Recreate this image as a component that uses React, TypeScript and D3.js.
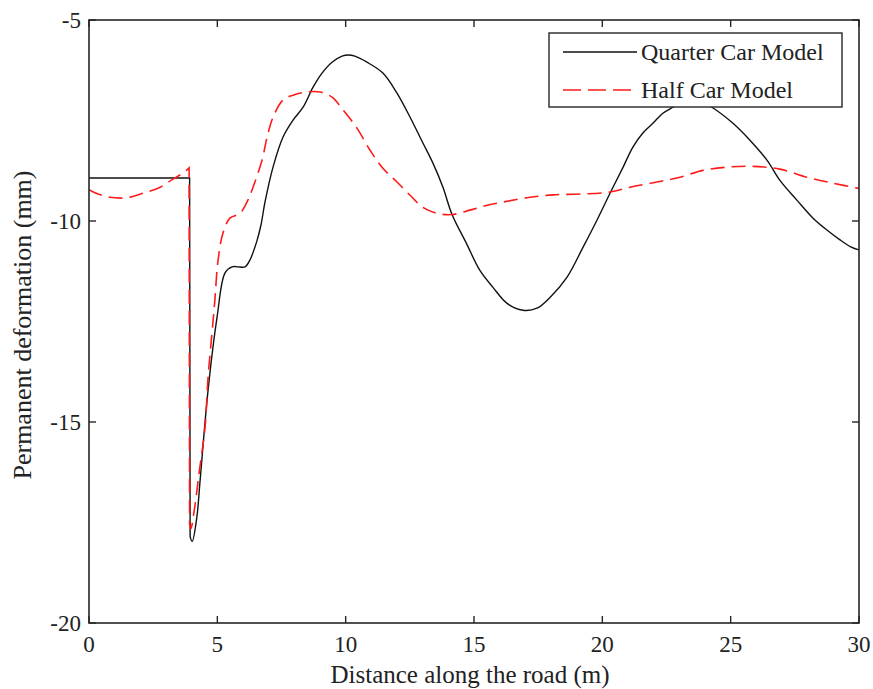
import React from "react";
import * as d3 from "d3";

const quarterX = [0, 1, 2, 3, 3.92, 3.94, 4.02, 4.2, 4.32, 4.64, 4.99, 5.3, 5.57, 5.8, 6.08, 6.27, 6.54, 6.7, 6.86, 7.17, 7.56, 7.95, 8.34, 8.73, 9.08, 9.47, 9.86, 10.1, 10.36, 10.83, 11.45, 12.0, 12.51, 13.01, 13.4, 13.79, 14.14, 14.7, 15.23, 15.74, 16.29, 16.91, 17.45, 17.96, 18.62, 19.25, 19.79, 20.3, 20.81, 21.19, 21.58, 21.97, 22.36, 22.75, 23.2, 23.5, 23.85, 24.27, 25.09, 25.75, 26.42, 26.92, 27.58, 28.21, 28.8, 29.26, 29.7, 30];
const quarterY = [-8.93, -8.93, -8.93, -8.93, -8.93, -17.85, -17.97, -17.38, -16.52, -14.2, -12.39, -11.29, -11.14, -11.14, -11.14, -10.97, -10.5, -10.1, -9.52, -8.66, -7.91, -7.49, -7.17, -6.67, -6.32, -6.05, -5.9, -5.87, -5.9, -6.05, -6.32, -6.82, -7.42, -8.06, -8.56, -9.16, -9.83, -10.55, -11.23, -11.65, -12.05, -12.22, -12.17, -11.9, -11.4, -10.65, -9.98, -9.31, -8.66, -8.16, -7.81, -7.57, -7.32, -7.17, -7.02, -6.97, -7.03, -7.17, -7.57, -7.99, -8.49, -8.99, -9.48, -9.93, -10.25, -10.47, -10.65, -10.72];
const quarterDropIndex = 4;

const halfX = [0, 0.23, 0.82, 1.48, 2.1, 2.77, 3.27, 3.7, 3.9, 3.92, 3.97, 4.1, 4.32, 4.52, 4.64, 4.79, 4.9, 5.03, 5.22, 5.49, 5.88, 6.19, 6.39, 6.74, 6.94, 7.17, 7.56, 7.95, 8.49, 9.0, 9.47, 9.9, 10.44, 10.95, 11.45, 12.0, 12.51, 13.01, 13.56, 14.14, 14.84, 15.51, 16.29, 17.18, 18.08, 19.13, 20.3, 21.08, 22.13, 23.03, 23.92, 24.86, 25.87, 26.92, 27.97, 28.99, 30];
const halfY = [-9.22, -9.3, -9.41, -9.42, -9.31, -9.16, -8.96, -8.79, -8.68, -17.55, -17.65, -17.2, -16.12, -15.14, -13.88, -12.8, -12.0, -10.97, -10.3, -9.93, -9.81, -9.48, -9.16, -8.49, -7.91, -7.42, -6.99, -6.87, -6.79, -6.79, -6.92, -7.24, -7.69, -8.24, -8.69, -9.03, -9.36, -9.66, -9.81, -9.84, -9.73, -9.61, -9.51, -9.41, -9.35, -9.33, -9.28, -9.16, -9.03, -8.91, -8.74, -8.66, -8.64, -8.71, -8.91, -9.06, -9.19];
const halfDropIndex = 8;

const xTicks = [0, 5, 10, 15, 20, 25, 30];
const yTicks = [-5, -10, -15, -20];
const seriesNames = ["Quarter Car Model", "Half Car Model"];

const W = 873, H = 689;
const L = 89, R = 859, T = 20, B = 623;
const FONT = "'Liberation Serif', 'Times New Roman', serif";

type P = [number, number];

export default function App() {
  const x = d3.scaleLinear().domain([0, 30]).range([L, R]);
  const y = d3.scaleLinear().domain([-20, -5]).range([B, T]);
  const smooth = d3.line<P>().x(d => x(d[0])).y(d => y(d[1])).curve(d3.curveCatmullRom.alpha(0.5));
  const build = (xs: number[], ys: number[], k: number) => {
    const pts = xs.map((v, i) => [v, ys[i]] as P);
    const a = smooth(pts.slice(0, k + 1)) || "";
    const b = (smooth(pts.slice(k + 1)) || "").replace(/^M/, "L");
    return a + b;
  };
  const qPath = build(quarterX, quarterY, quarterDropIndex);
  const hPath = build(halfX, halfY, halfDropIndex);
  const axisColor = "#262626";
  const tickLen = 7;
  return (
    <svg width={W} height={H} style={{ position: "absolute", left: 0, top: 0, background: "#fff" }} fontFamily={FONT}>
      <rect x={0} y={0} width={W} height={H} fill="#fff" />
      <defs>
        <clipPath id="plot"><rect x={L} y={T} width={R - L} height={B - T} /></clipPath>
      </defs>
      <g clipPath="url(#plot)">
        <path d={qPath} fill="none" stroke="#111" strokeWidth={1.4} />
        <path d={hPath} fill="none" stroke="#ff1a1a" strokeWidth={1.6} strokeDasharray="14,7" />
      </g>
      <rect x={L} y={T} width={R - L} height={B - T} fill="none" stroke={axisColor} strokeWidth={1.6} />
      {xTicks.map(t => (
        <g key={"x" + t}>
          <line x1={x(t)} x2={x(t)} y1={B} y2={B - tickLen} stroke={axisColor} strokeWidth={1.4} />
          <line x1={x(t)} x2={x(t)} y1={T} y2={T + tickLen} stroke={axisColor} strokeWidth={1.4} />
          <text x={x(t)} y={652} textAnchor="middle" fontSize={23} fill="#222">{t}</text>
        </g>
      ))}
      {yTicks.map(t => (
        <g key={"y" + t}>
          <line x1={L} x2={L + tickLen} y1={y(t)} y2={y(t)} stroke={axisColor} strokeWidth={1.4} />
          <line x1={R} x2={R - tickLen} y1={y(t)} y2={y(t)} stroke={axisColor} strokeWidth={1.4} />
          <text x={81} y={y(t) + 8} textAnchor="end" fontSize={23} fill="#222">{t}</text>
        </g>
      ))}
      <text x={470} y={683} textAnchor="middle" fontSize={25} fill="#222">Distance along the road (m)</text>
      <text transform={`translate(31,325) rotate(-90)`} textAnchor="middle" fontSize={26} fill="#222">Permanent deformation (mm)</text>
      <rect x={549} y={33} width={293} height={74} fill="#fff" stroke={axisColor} strokeWidth={1.4} />
      <line x1={563} x2={637} y1={52} y2={52} stroke="#111" strokeWidth={1.4} />
      <line x1={563} x2={637} y1={90} y2={90} stroke="#ff1a1a" strokeWidth={1.6} strokeDasharray="18,7" />
      <text x={641} y={60} fontSize={24} fill="#222">{seriesNames[0]}</text>
      <text x={641} y={98} fontSize={24} fill="#222">{seriesNames[1]}</text>
    </svg>
  );
}
